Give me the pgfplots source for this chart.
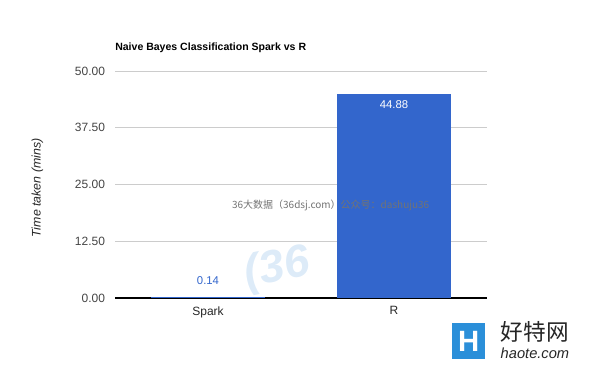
\documentclass[border=0pt]{standalone}
\usepackage{pgfplots}
\pgfplotsset{compat=1.18}
\usepackage{fontspec}
\setmainfont{Liberation Sans}
\newfontfamily\cjk{Noto Sans CJK SC}
\definecolor{barblue}{HTML}{3366CC}
\definecolor{tickgray}{HTML}{444444}
\definecolor{gridgray}{HTML}{CCCCCC}
\definecolor{logoblue}{HTML}{2B8FD9}
\definecolor{wmblue}{HTML}{DDEBF8}
\begin{document}
\begin{tikzpicture}[x=1pt,y=1pt]
\useasboundingbox (0,0) rectangle (450,278.25);
% watermark logo behind
\node[rotate=12,inner sep=0pt,text=wmblue,font=\fontsize{34}{34}\selectfont\bfseries\itshape] at (208,76) {(36};
\begin{axis}[
  at={(86.25pt,54.75pt)}, anchor=south west,
  scale only axis, width=279pt, height=170.25pt,
  xmin=-0.5, xmax=1.5, ymin=0, ymax=50,
  xtick={0,1}, xticklabels={Spark,R},
  ytick={0,12.5,25,37.5,50},
  yticklabel style={xshift=-4pt, /pgf/number format/.cd,fixed,fixed zerofill,precision=2,assume math mode=true},
  ticklabel style={font=\fontsize{9}{10}\selectfont, text=tickgray},
  xticklabel style={text=black!85, yshift=-3pt},
  major tick length=0pt,
  ymajorgrids, grid style={gridgray, line width=0.6pt},
  axis y line*=left, axis x line*=bottom,
  y axis line style={draw=none},
  x axis line style={black, line width=0.8pt, -},
  ybar, bar width=85.5pt, bar shift=0pt,
  clip=false,
  every node near coord/.append style={font=\fontsize{8.5}{10}\selectfont},
]
\addplot[fill=barblue, draw=none, nodes near coords, nodes near coords style={text=barblue, anchor=south, yshift=6pt, /pgf/number format/.cd, fixed, fixed zerofill, precision=2, assume math mode=true}] coordinates {(0,0.14)};
\addplot[fill=barblue, draw=none, nodes near coords, nodes near coords style={text=white, anchor=north, yshift=-1pt, /pgf/number format/.cd, fixed, fixed zerofill, precision=2, assume math mode=true}] coordinates {(1,44.88)};
\end{axis}
\node[rotate=90, font=\fontsize{9.3}{10}\selectfont\itshape, text=black!85] at (28,137.25) {Time taken (mins)};
\node[anchor=west, inner sep=0pt, font=\fontsize{7.9}{10}\selectfont\bfseries] at (86.25,242.5) {Naive Bayes Classification Spark vs R};
% watermark text
\node[text=black!55, font=\cjk\fontsize{7.5}{9}\selectfont] at (248,124.5) {36大数据（36dsj.com）公众号：dashuju36};
% haote logo
\fill[logoblue] (339,9) rectangle (364,36);
\node[text=white, font=\fontsize{22}{22}\selectfont\bfseries] at (351.5,22.5) {H};
\node[anchor=west, font=\cjk\fontsize{17}{17}\selectfont, text=black!85] at (372,29) {好特网};
\node[anchor=west, font=\fontsize{11}{11}\selectfont\itshape, text=black!85] at (372,13) {haote.com};
\end{tikzpicture}
\end{document}
